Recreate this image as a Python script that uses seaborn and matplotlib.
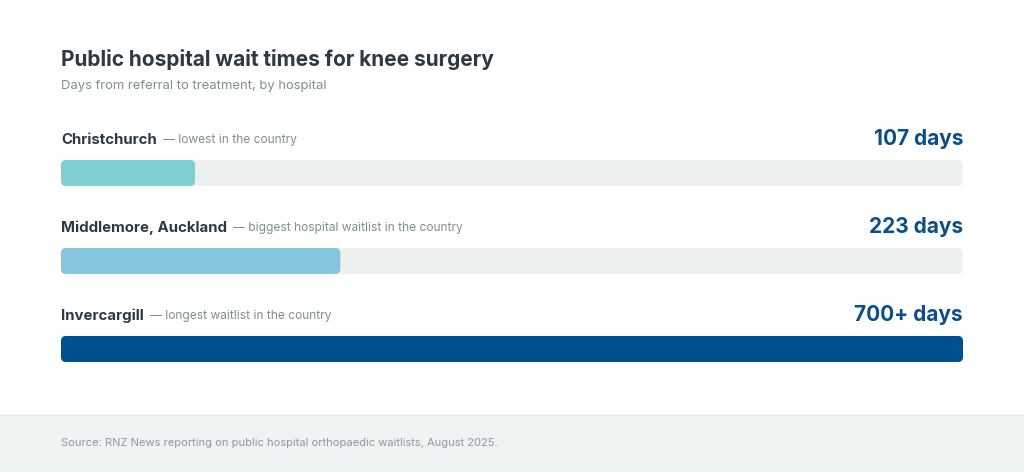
import matplotlib
matplotlib.use("Agg")
import matplotlib.pyplot as plt
from matplotlib.patches import FancyBboxPatch, Rectangle
from matplotlib.lines import Line2D
import seaborn as sns
import pandas as pd

# ---- data ----
hospitals = ["Christchurch", "Middlemore, Auckland", "Invercargill"]
notes = ["lowest in the country", "biggest hospital waitlist in the country",
         "longest waitlist in the country"]
wait_days = [107, 223, 720]          # Invercargill shown as "700+" (open-ended, fills the track)
value_labels = ["107 days", "223 days", "700+ days"]
scale_max = 720
bar_colors = ["#80cfd0", "#86c4df", "#004f8e"]

title = "Public hospital wait times for knee surgery"
subtitle = "Days from referral to treatment, by hospital"
source = "Source: RNZ News reporting on public hospital orthopaedic waitlists, August 2025."

FONT = "Inter"
W, H = 1024, 472
sns.set_theme(style="white")
plt.rcParams["font.family"] = [FONT, "DejaVu Sans"]

fig = plt.figure(figsize=(W / 100, H / 100), dpi=100)
fig.patch.set_facecolor("white")

# footer band
fig.patches.append(Rectangle((0, 0), 1, (H - 415) / H, transform=fig.transFigure,
                             facecolor="#eff3f4", edgecolor="none", zorder=0))
fig.lines.append(Line2D([0, 1], [(H - 415) / H] * 2, transform=fig.transFigure,
                        color="#e2e8ea", lw=1, zorder=1))

left_px, right_px = 61, 963
top_px, bot_px = 129, 393
ax = fig.add_axes([left_px / W, 1 - bot_px / H, (right_px - left_px) / W, (bot_px - top_px) / H])
ax.set_facecolor("none")

df = pd.DataFrame({"hospital": hospitals, "days": wait_days,
                   "track": [scale_max] * len(hospitals)})
bw = 26 / 88
sns.barplot(data=df, x="track", y="hospital", orient="h", color="#eef1f2",
            width=bw, ax=ax, saturation=1)
sns.barplot(data=df, x="days", y="hospital", hue="hospital", orient="h",
            palette=bar_colors, width=bw, ax=ax, saturation=1, legend=False)

ax.set_xlim(0, scale_max)
ax.set_ylim(2.5, -0.5)

# round the bars
xunit_per_px = scale_max / (right_px - left_px)
yunit_per_px = 1 / 88
r_px = 5
for p in list(ax.patches):
    x, y = p.get_x(), p.get_y()
    w, h = p.get_width(), p.get_height()
    fc = p.get_facecolor()
    p.remove()
    ax.add_patch(FancyBboxPatch((x, y), w, h,
                                boxstyle=f"round,pad=0,rounding_size={r_px * xunit_per_px}",
                                mutation_aspect=yunit_per_px / xunit_per_px,
                                facecolor=fc, edgecolor="none"))

for i, (name, note, vl) in enumerate(zip(hospitals, notes, value_labels)):
    t = ax.text(0, i - 0.375, name, fontsize=10.8, fontweight="bold", color="#2d3a44",
                va="center", ha="left")
    fig.canvas.draw()
    bb = t.get_window_extent()
    x_end = ax.transData.inverted().transform((bb.x1, bb.y0))[0]
    ax.text(x_end + 6 * xunit_per_px, i - 0.375, "— " + note, fontsize=8.6, color="#7d8f95",
            va="center", ha="left")
    ax.text(scale_max, i - 0.39, vl, fontsize=15, fontweight="bold", color="#0b4f8a",
            va="center", ha="right")

ax.set_xlabel("")
ax.set_ylabel("")
ax.set_xticks([])
ax.set_yticks([])
for s in ax.spines.values():
    s.set_visible(False)

fig.text(61 / W, 1 - 60 / H, title, fontsize=15, fontweight="bold", color="#2d3a44",
         va="center", ha="left")
fig.text(61 / W, 1 - 86 / H, subtitle, fontsize=9.4, color="#7d8f95", va="center", ha="left")
fig.text(61 / W, 1 - 443 / H, source, fontsize=8, color="#8a9a9f", va="center", ha="left")

fig.savefig("out.png", dpi=100)
